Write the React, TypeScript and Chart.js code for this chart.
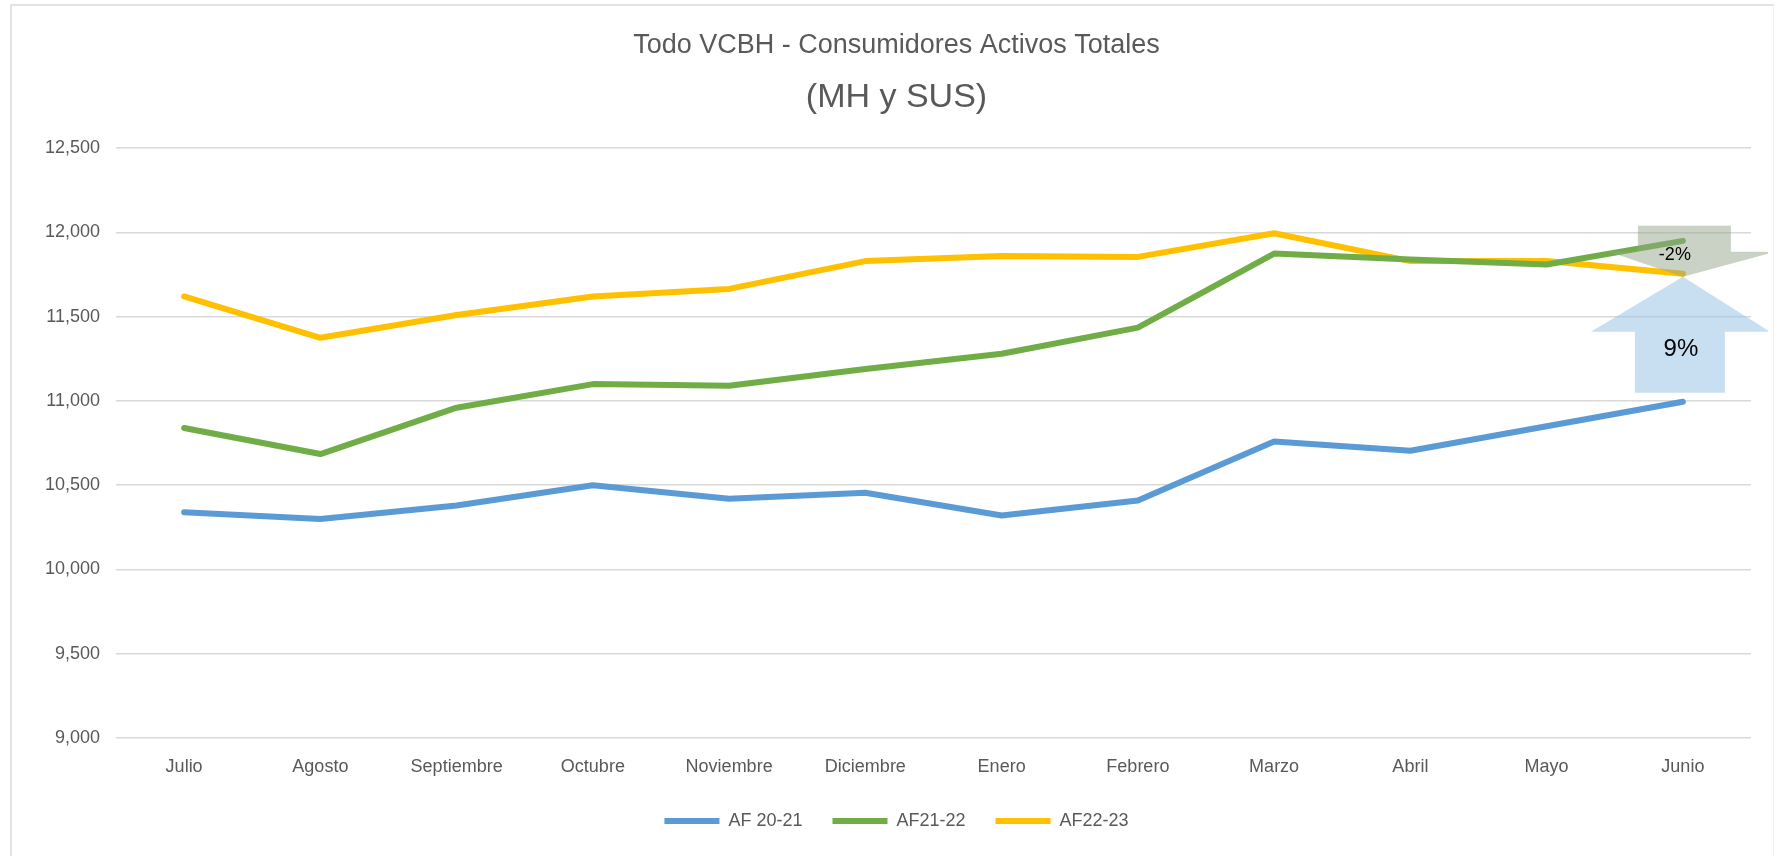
import React, { useEffect, useRef } from "react";
import { Chart, registerables } from "chart.js";

Chart.register(...registerables);

const categories = ["Julio", "Agosto", "Septiembre", "Octubre", "Noviembre", "Diciembre", "Enero", "Febrero", "Marzo", "Abril", "Mayo", "Junio"];
const af2021 = [10340, 10300, 10380, 10500, 10420, 10455, 10320, 10410, 10760, 10705, 10850, 10995];
const af2122 = [10840, 10685, 10960, 11100, 11090, 11190, 11280, 11435, 11875, 11840, 11810, 11950];
const af2223 = [11620, 11375, 11510, 11620, 11665, 11830, 11860, 11855, 11995, 11830, 11830, 11755];
const seriesNames = ["AF 20-21", "AF21-22", "AF22-23"];
const seriesColors = ["#5B9BD5", "#70AD47", "#FFC000"];
const arrowLabels = ["-2%", "9%"];

const FONT = "'Liberation Sans', Arial, sans-serif";
const GREY = "#595959";

const arrowsPlugin = {
  id: "arrows",
  afterDatasetsDraw(chart: any) {
    const ctx = chart.ctx;
    const meta = chart.getDatasetMeta(2);
    const pt = meta.data[meta.data.length - 1];
    if (!pt) return;
    const tx = pt.x;
    const ty = pt.y + 3;
    ctx.save();
    ctx.fillStyle = "rgba(150,165,140,0.5)";
    ctx.beginPath();
    ctx.moveTo(tx - 45, ty - 51);
    ctx.lineTo(tx + 48, ty - 51);
    ctx.lineTo(tx + 48, ty - 25);
    ctx.lineTo(tx + 93, ty - 25);
    ctx.lineTo(tx, ty);
    ctx.lineTo(tx - 74, ty - 25);
    ctx.lineTo(tx - 45, ty - 25);
    ctx.closePath();
    ctx.fill();
    ctx.fillStyle = "rgba(155,194,230,0.55)";
    ctx.beginPath();
    ctx.moveTo(tx, ty);
    ctx.lineTo(tx + 87, ty + 55);
    ctx.lineTo(tx + 42, ty + 55);
    ctx.lineTo(tx + 42, ty + 116);
    ctx.lineTo(tx - 48, ty + 116);
    ctx.lineTo(tx - 48, ty + 55);
    ctx.lineTo(tx - 92, ty + 55);
    ctx.closePath();
    ctx.fill();
    ctx.fillStyle = "#000";
    ctx.textAlign = "center";
    ctx.textBaseline = "middle";
    ctx.font = `18px ${FONT}`;
    ctx.fillText(arrowLabels[0], tx - 8, ty - 22);
    ctx.font = `24px ${FONT}`;
    ctx.fillText(arrowLabels[1], tx - 2, ty + 73);
    ctx.restore();
  },
};

export default function App() {
  const ref = useRef<HTMLCanvasElement | null>(null);
  useEffect(() => {
    if (!ref.current) return;
    const datasets = [af2021, af2122, af2223].map((d, i) => ({
      label: seriesNames[i],
      data: d,
      borderColor: seriesColors[i],
      backgroundColor: seriesColors[i],
      borderWidth: 6,
      pointRadius: 0,
      pointHoverRadius: 0,
      tension: 0,
      borderCapStyle: "round" as const,
      borderJoinStyle: "round" as const,
    }));
    const chart = new Chart(ref.current, {
      type: "line",
      data: { labels: categories, datasets },
      plugins: [arrowsPlugin],
      options: {
        animation: false,
        responsive: false,
        layout: { padding: { left: 33, right: 17, top: 0, bottom: 16 } },
        plugins: {
          tooltip: { enabled: false },
          title: {
            display: true,
            text: "Todo VCBH - Consumidores Activos Totales",
            color: GREY,
            font: { family: FONT, size: 27, weight: "normal" },
            padding: { top: 20, bottom: 5 },
          },
          subtitle: {
            display: true,
            text: "(MH y SUS)",
            color: GREY,
            font: { family: FONT, size: 34, weight: "normal" },
            padding: { top: 11, bottom: 30 },
          },
          legend: {
            position: "bottom",
            labels: {
              color: GREY,
              font: { family: FONT, size: 18 },
              boxWidth: 55,
              boxHeight: 6,
              padding: 30,
              generateLabels: (c: any) =>
                Chart.defaults.plugins.legend.labels.generateLabels(c).map((l: any) => ({
                  ...l,
                  lineWidth: 0,
                  fillStyle: seriesColors[l.datasetIndex],
                })),
            },
          },
        },
        scales: {
          x: {
            offset: true,
            grid: { display: false, drawTicks: false },
            border: { display: false },
            ticks: { color: GREY, font: { family: FONT, size: 18 }, padding: 18, maxRotation: 0, autoSkip: false },
            afterFit: (s: any) => { s.height = 44; },
          },
          y: {
            min: 9000,
            max: 12500,
            grid: { color: "#d9d9d9", lineWidth: 1.5, drawTicks: false },
            border: { display: false },
            ticks: {
              stepSize: 500,
              color: GREY,
              font: { family: FONT, size: 18 },
              padding: 16,
              callback: (v: any) => Number(v).toLocaleString("en-US"),
            },
            afterFit: (s: any) => { s.width = 74; },
          },
        },
      },
    });
    return () => chart.destroy();
  }, []);
  return (
    <div>
      <div
        style={{
          position: "fixed",
          left: 10,
          top: 4,
          width: 1764,
          height: 900,
          borderTop: "2px solid #e3e3e3",
          borderLeft: "2px solid #e3e3e3",
          borderRight: "1px solid #f0f0f0",
          boxSizing: "border-box",
          pointerEvents: "none",
        }}
      />
      <canvas
        ref={ref}
        width={1759}
        height={847}
        style={{ display: "block", position: "fixed", left: 9, top: 9 }}
      />
    </div>
  );
}
